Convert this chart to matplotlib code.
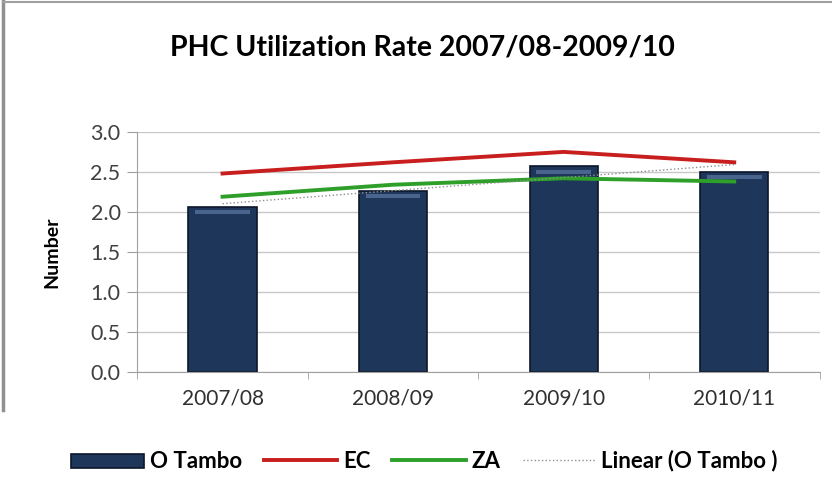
import numpy as np
import matplotlib.pyplot as plt
from matplotlib.lines import Line2D

plt.rcParams['font.family'] = ['Lato', 'DejaVu Sans']

# data
years = ['2007/08', '2008/09', '2009/10', '2010/11']
o_tambo = [2.06, 2.26, 2.57, 2.50]
ec = [2.48, 2.62, 2.75, 2.62]
za = [2.19, 2.34, 2.42, 2.38]

x = np.arange(len(years))

# linear trendline for O Tambo
slope, icept = np.polyfit(x, o_tambo, 1)
trend = slope * x + icept

fig = plt.figure(figsize=(8.32, 4.94), dpi=100)
ax = fig.add_axes([0.165, 0.247, 0.82, 0.486])

bars = ax.bar(x, o_tambo, width=0.4, color='#1d3659', edgecolor='#0b1628', linewidth=1.2, label='O Tambo', zorder=2)
# glossy highlight near the top of each bar
ax.bar(x, 0.05, bottom=np.array(o_tambo) - 0.09, width=0.32, color='#6f8db8', alpha=0.55, zorder=2.5)
l_ec, = ax.plot(x, ec, color='#c81e1e', lw=2.8, label='EC', zorder=3)
l_za, = ax.plot(x, za, color='#2ea02a', lw=2.8, label='ZA', zorder=3)
l_tr, = ax.plot(x, trend, color='#909090', lw=1, ls=':', label='Linear (O Tambo )', zorder=4)

ax.set_xlim(-0.5, len(years) - 0.5)
ax.set_ylim(0, 3.0)
ax.set_yticks(np.arange(0, 3.01, 0.5))
ax.set_yticklabels([f'{v:.1f}' for v in np.arange(0, 3.01, 0.5)])
ax.set_xticks(x)
ax.set_xticklabels(years)
ax.set_xticks(np.arange(-0.5, len(years), 1), minor=True)

ax.grid(axis='y', color='#c8c8c8', lw=1, zorder=0)
ax.set_axisbelow(True)
for s in ['top', 'right']:
    ax.spines[s].set_visible(False)
for s in ['left', 'bottom']:
    ax.spines[s].set_color('#a0a0a0')
ax.tick_params(axis='y', colors='#a0a0a0', labelcolor='#404040', labelsize=15.5, length=7, direction='out', pad=5)
ax.tick_params(axis='x', which='major', length=0, labelsize=15, labelcolor='#303030', pad=12)
ax.tick_params(axis='x', which='minor', length=5, color='#a0a0a0', direction='out')

ax.set_ylabel('Number', fontsize=14, fontweight='bold', labelpad=22)
fig.suptitle('PHC Utilization Rate 2007/08-2009/10', x=0.508, y=0.93, fontsize=20.5, fontweight='bold')

leg = fig.legend([bars, l_ec, l_za, l_tr], ['O Tambo', 'EC', 'ZA', 'Linear (O Tambo )'],
                 loc='center', bbox_to_anchor=(0.51, 0.067), ncol=4, frameon=False,
                 prop={'weight': 'bold', 'size': 16}, handlelength=3.3, handletextpad=0.25,
                 columnspacing=1.0)
for h in leg.legend_handles:
    if not isinstance(h, Line2D):
        h.set_height(10)

# chart border
fig.add_artist(Line2D([0.004, 0.004], [0.17, 1.0], color='#909090', lw=2.5))
fig.add_artist(Line2D([0.004, 1.0], [0.995, 0.995], color='#a0a0a0', lw=1.5))

fig.savefig('out.png', dpi=100)
